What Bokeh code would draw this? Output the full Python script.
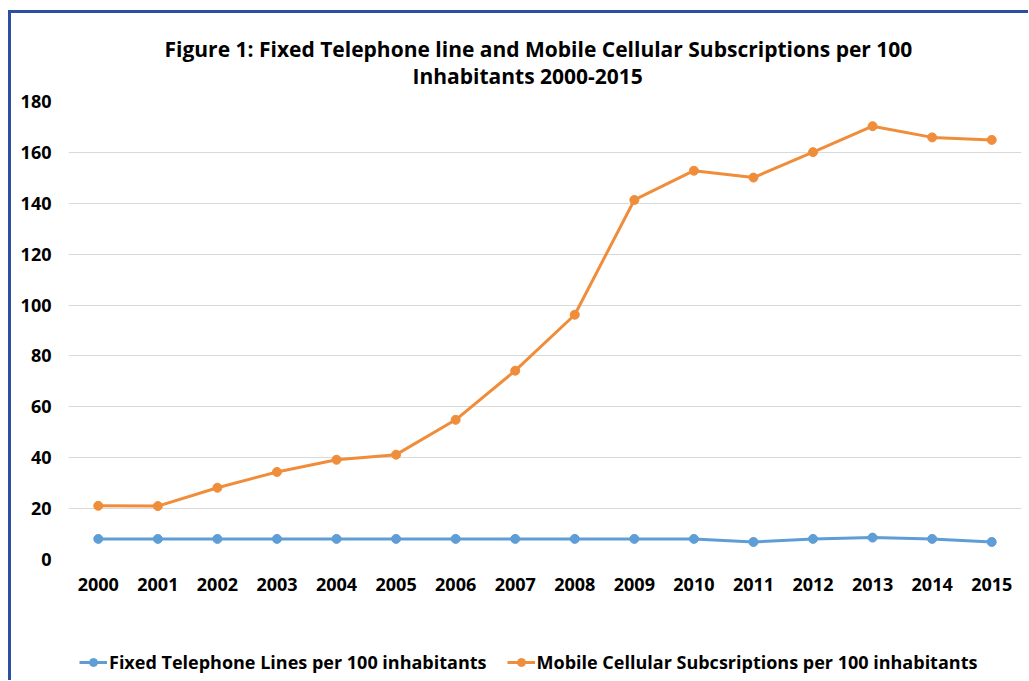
from bokeh.plotting import figure
from bokeh.layouts import column
from bokeh.models import Range1d, FixedTicker, Title, Legend, LegendItem
from bokeh.embed import file_html
from bokeh.resources import INLINE

years = list(range(2000, 2016))
fixed = [8.1, 8.1, 8.1, 8.1, 8.1, 8.1, 8.1, 8.1, 8.1, 8.1, 8.1, 6.9, 8.1, 8.6, 8.1, 6.9]
mobile = [21.1, 21.0, 28.2, 34.4, 39.2, 41.2, 54.9, 74.2, 96.2, 141.3, 152.8, 150.1, 160.1, 170.3, 165.9, 164.9]
title_lines = ["Figure 1: Fixed Telephone line and Mobile Cellular Subscriptions per 100",
               "Inhabitants 2000-2015"]
series_names = ["Fixed Telephone Lines per 100 inhabitants",
                "Mobile Cellular Subcsriptions per 100 inhabitants"]
y_ticks = list(range(0, 181, 20))

FONT = "Open Sans"
BLUE = "#5E9DD6"
ORANGE = "#F08D3A"
BORDER = "#2E4FA0"

p = figure(width=1017, height=627, output_backend="svg", toolbar_location=None,
           x_range=Range1d(1999.5, 2015.5), y_range=Range1d(0, 180),
           min_border_left=57, min_border_right=7, min_border_top=88, min_border_bottom=81)
p.outline_line_color = None
p.background_fill_color = "white"
p.border_fill_color = "white"

p.xgrid.grid_line_color = None
p.ygrid.grid_line_color = "#D9D9D9"
p.ygrid.grid_line_width = 1

p.xaxis.ticker = FixedTicker(ticks=years)
p.yaxis.ticker = FixedTicker(ticks=y_ticks)
for ax in (p.xaxis, p.yaxis):
    ax.axis_line_color = None
    ax.major_tick_line_color = None
    ax.minor_tick_line_color = None
    ax.major_tick_in = 0
    ax.major_tick_out = 0
    ax.major_label_text_font = FONT
    ax.major_label_text_font_style = "bold"
    ax.major_label_text_font_size = "18px"
    ax.major_label_text_color = "black"
p.xaxis.major_label_standoff = 18
p.yaxis.major_label_standoff = 17

p.line(years, fixed, line_color=BLUE, line_width=3)
p.scatter(years, fixed, marker="circle", size=9, fill_color=BLUE, line_color=BLUE)
p.line(years, mobile, line_color=ORANGE, line_width=3)
p.scatter(years, mobile, marker="circle", size=9, fill_color=ORANGE, line_color=ORANGE)

# first added is nearest the frame
p.add_layout(Title(text=title_lines[1], align="left", offset=344, text_font=FONT,
                   text_font_style="bold", text_font_size="21px", text_color="black",
                   standoff=24), "above")
p.add_layout(Title(text=title_lines[0], align="left", offset=96, text_font=FONT,
                   text_font_style="bold", text_font_size="21px", text_color="black",
                   standoff=-31), "above")

# legend strip below the chart (its frame is aligned with the chart's frame)
lg = figure(width=1017, height=40, output_backend="svg", toolbar_location=None,
            x_range=Range1d(0, 1), y_range=Range1d(0, 1),
            x_axis_type=None, y_axis_type=None,
            min_border_left=0, min_border_right=0, min_border_top=0, min_border_bottom=0)
lg.outline_line_color = None
lg.xgrid.grid_line_color = None
lg.ygrid.grid_line_color = None
r1 = lg.line(years, fixed, line_color=BLUE, line_width=3)
m1 = lg.scatter(years, fixed, marker="circle", size=9, fill_color=BLUE, line_color=BLUE)
r2 = lg.line(years, mobile, line_color=ORANGE, line_width=3)
m2 = lg.scatter(years, mobile, marker="circle", size=9, fill_color=ORANGE, line_color=ORANGE)
legend = Legend(items=[LegendItem(label=series_names[0], renderers=[r1, m1]),
                       LegendItem(label=series_names[1], renderers=[r2, m2])],
                orientation="horizontal", location=(11, 6),
                glyph_width=28, glyph_height=20, label_height=20, label_standoff=2,
                spacing=20, padding=0, margin=0,
                border_line_color=None, background_fill_alpha=0,
                label_text_font=FONT, label_text_font_style="bold",
                label_text_font_size="18px", label_text_color="black")
lg.add_layout(legend, "center")

page = column(p, lg, spacing=0)
page.styles = {"margin-left": "8px", "margin-top": "10px",
               "border-left": f"3px solid {BORDER}", "border-top": f"3px solid {BORDER}"}

open("out.html", "w").write(file_html(page, INLINE))
